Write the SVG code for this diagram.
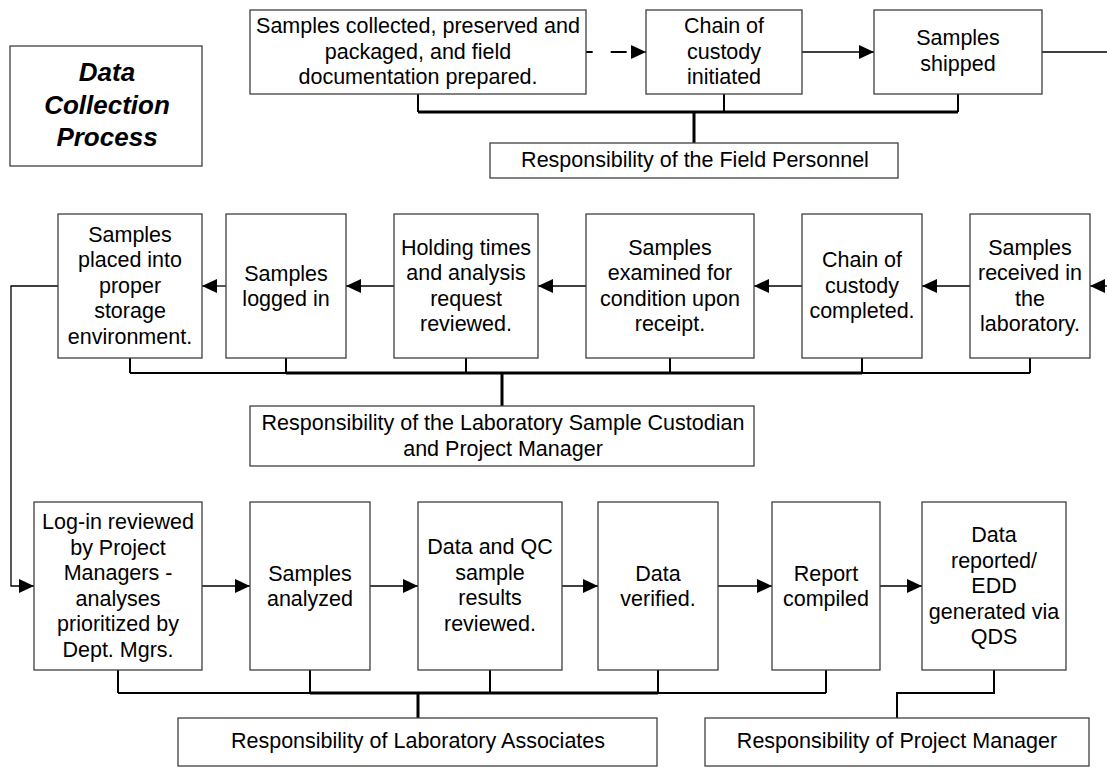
<svg xmlns="http://www.w3.org/2000/svg" width="1107" height="771" viewBox="0 0 1107 771">
<style>
.box{fill:#fff;stroke:#404040;stroke-width:1.3}
.t{font-family:"Liberation Sans",Arial,sans-serif;font-size:21.5px;fill:#000;text-anchor:middle}
.title{font-family:"Liberation Sans",Arial,sans-serif;font-size:26px;font-weight:bold;font-style:italic;fill:#000;text-anchor:middle}
.ar{fill:none;stroke:#000;stroke-width:1.3}
.thk{fill:none;stroke:#000;stroke-width:3}
.thn{fill:none;stroke:#000;stroke-width:2}
</style>
<defs>
<marker id="ah" markerUnits="userSpaceOnUse" markerWidth="15" markerHeight="14" viewBox="0 0 15 14" refX="15" refY="7" orient="auto">
<path d="M0,0 L15,7 L0,14 z" fill="#000"/>
</marker>
</defs>

<g id="connectors">
<!-- top row -->
<line x1="586" y1="52" x2="646" y2="52" stroke="#000" stroke-width="2" stroke-dasharray="16 18" stroke-dashoffset="9.3" marker-end="url(#ah)"/>
<line class="ar" x1="802" y1="52" x2="874" y2="52" marker-end="url(#ah)"/>
<line class="ar" x1="1042" y1="52" x2="1107" y2="52"/>
<path class="thn" d="M418,94 V112 M724,94 V112 M958,94 V112"/>
<path class="thk" d="M418,112 H958 M694,112 V143"/>
<!-- row 2 -->
<line class="ar" x1="1110" y1="286" x2="1090" y2="286" marker-end="url(#ah)"/>
<line class="ar" x1="970" y1="286" x2="922" y2="286" marker-end="url(#ah)"/>
<line class="ar" x1="802" y1="286" x2="754" y2="286" marker-end="url(#ah)"/>
<line class="ar" x1="586" y1="286" x2="538" y2="286" marker-end="url(#ah)"/>
<line class="ar" x1="394" y1="286" x2="346" y2="286" marker-end="url(#ah)"/>
<line class="ar" x1="226" y1="286" x2="202" y2="286" marker-end="url(#ah)"/>
<path class="thn" d="M130,358 V373 M286,358 V373 M466,358 V373 M670,358 V373 M862,358 V373 M1030,358 V373 M130,373 H286 M862,373 H1030"/>
<path class="thk" d="M286,373 H862 M502,373 V406"/>
<!-- row2 to row3 -->
<path class="ar" d="M58,286 H11 V586 H34" marker-end="url(#ah)"/>
<!-- row 3 -->
<line class="ar" x1="202" y1="586" x2="250" y2="586" marker-end="url(#ah)"/>
<line class="ar" x1="370" y1="586" x2="418" y2="586" marker-end="url(#ah)"/>
<line class="ar" x1="562" y1="586" x2="598" y2="586" marker-end="url(#ah)"/>
<line class="ar" x1="718" y1="586" x2="772" y2="586" marker-end="url(#ah)"/>
<line class="ar" x1="880" y1="586" x2="922" y2="586" marker-end="url(#ah)"/>
<path class="thn" d="M118,670 V693 M310,670 V693 M490,670 V693 M658,670 V693 M826,670 V693 M118,693 H310 M658,693 H826"/>
<path class="thk" d="M310,693 H658 M418,693 V718"/>
<path class="thn" d="M994,670 V693 H897 V718"/>
</g>

<g id="title">
<rect class="box" x="10" y="46" width="192" height="120"/>
<text class="title" x="107" y="81">Data</text>
<text class="title" x="107" y="113.5">Collection</text>
<text class="title" x="107" y="146">Process</text>
</g>

<g id="n-collected">
<rect class="box" x="250" y="10" width="336" height="84"/>
<text class="t" x="418" y="33">Samples collected, preserved and</text>
<text class="t" x="418" y="58.5">packaged, and field</text>
<text class="t" x="418" y="84">documentation prepared.</text>
</g>
<g id="n-coc-init">
<rect class="box" x="646" y="10" width="156" height="84"/>
<text class="t" x="724" y="33">Chain of</text>
<text class="t" x="724" y="58.5">custody</text>
<text class="t" x="724" y="84">initiated</text>
</g>
<g id="n-shipped">
<rect class="box" x="874" y="10" width="168" height="84"/>
<text class="t" x="958" y="45">Samples</text>
<text class="t" x="958" y="70.5">shipped</text>
</g>
<g id="r-field">
<rect class="box" x="490" y="143" width="408" height="35"/>
<text class="t" x="695" y="167">Responsibility of the Field Personnel</text>
</g>

<g id="n-storage">
<rect class="box" x="58" y="214" width="144" height="144"/>
<text class="t" x="130" y="241.5">Samples</text>
<text class="t" x="130" y="267">placed into</text>
<text class="t" x="130" y="292.5">proper</text>
<text class="t" x="130" y="318">storage</text>
<text class="t" x="130" y="343.5">environment.</text>
</g>
<g id="n-logged">
<rect class="box" x="226" y="214" width="120" height="144"/>
<text class="t" x="286" y="280.5">Samples</text>
<text class="t" x="286" y="306">logged in</text>
</g>
<g id="n-holding">
<rect class="box" x="394" y="214" width="144" height="144"/>
<text class="t" x="466" y="254.5">Holding times</text>
<text class="t" x="466" y="280">and analysis</text>
<text class="t" x="466" y="305.5">request</text>
<text class="t" x="466" y="331">reviewed.</text>
</g>
<g id="n-examined">
<rect class="box" x="586" y="214" width="168" height="144"/>
<text class="t" x="670" y="254.5">Samples</text>
<text class="t" x="670" y="280">examined for</text>
<text class="t" x="670" y="305.5">condition upon</text>
<text class="t" x="670" y="331">receipt.</text>
</g>
<g id="n-coc-done">
<rect class="box" x="802" y="214" width="120" height="144"/>
<text class="t" x="862" y="267">Chain of</text>
<text class="t" x="862" y="292.5">custody</text>
<text class="t" x="862" y="318">completed.</text>
</g>
<g id="n-received">
<rect class="box" x="970" y="214" width="120" height="144"/>
<text class="t" x="1030" y="254.5">Samples</text>
<text class="t" x="1030" y="280">received in</text>
<text class="t" x="1030" y="305.5">the</text>
<text class="t" x="1030" y="331">laboratory.</text>
</g>
<g id="r-custodian">
<rect class="box" x="250" y="406" width="504" height="60"/>
<text class="t" x="503" y="430">Responsibility of the Laboratory Sample Custodian</text>
<text class="t" x="503" y="455.5">and Project Manager</text>
</g>

<g id="n-login">
<rect class="box" x="34" y="502" width="168" height="168"/>
<text class="t" x="118" y="529">Log-in reviewed</text>
<text class="t" x="118" y="554.5">by Project</text>
<text class="t" x="118" y="580">Managers -</text>
<text class="t" x="118" y="605.5">analyses</text>
<text class="t" x="118" y="631">prioritized by</text>
<text class="t" x="118" y="656.5">Dept. Mgrs.</text>
</g>
<g id="n-analyzed">
<rect class="box" x="250" y="502" width="120" height="168"/>
<text class="t" x="310" y="580.5">Samples</text>
<text class="t" x="310" y="606">analyzed</text>
</g>
<g id="n-qc">
<rect class="box" x="418" y="502" width="144" height="168"/>
<text class="t" x="490" y="554">Data and QC</text>
<text class="t" x="490" y="579.5">sample</text>
<text class="t" x="490" y="605">results</text>
<text class="t" x="490" y="630.5">reviewed.</text>
</g>
<g id="n-verified">
<rect class="box" x="598" y="502" width="120" height="168"/>
<text class="t" x="658" y="580.5">Data</text>
<text class="t" x="658" y="606">verified.</text>
</g>
<g id="n-report">
<rect class="box" x="772" y="502" width="108" height="168"/>
<text class="t" x="826" y="580.5">Report</text>
<text class="t" x="826" y="606">compiled</text>
</g>
<g id="n-reported">
<rect class="box" x="922" y="502" width="144" height="168"/>
<text class="t" x="994" y="542">Data</text>
<text class="t" x="994" y="567.5">reported/</text>
<text class="t" x="994" y="593">EDD</text>
<text class="t" x="994" y="618.5">generated via</text>
<text class="t" x="994" y="644">QDS</text>
</g>
<g id="r-associates">
<rect class="box" x="178" y="718" width="479" height="48"/>
<text class="t" x="418" y="748">Responsibility of Laboratory Associates</text>
</g>
<g id="r-pm">
<rect class="box" x="705" y="718" width="384" height="48"/>
<text class="t" x="897" y="748">Responsibility of Project Manager</text>
</g>
</svg>
